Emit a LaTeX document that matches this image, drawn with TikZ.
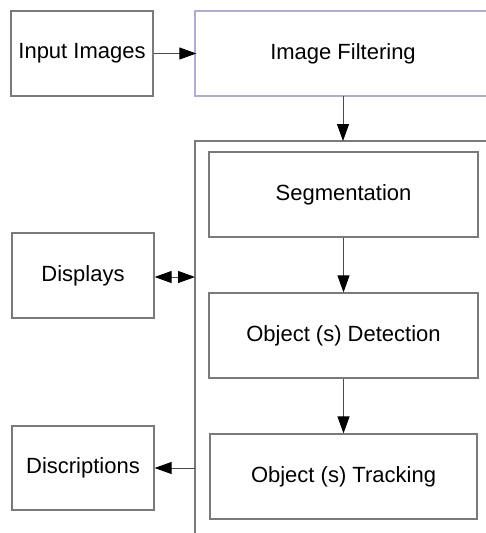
\documentclass[tikz,border=0pt]{standalone}
\usepackage{fontspec}
\setmainfont{Liberation Sans}
\usetikzlibrary{arrows.meta}
\definecolor{boxgray}{HTML}{7A7A7A}
\definecolor{lilac}{HTML}{B4AAD6}
\definecolor{linegray}{HTML}{4A4A4A}
\begin{document}
\begin{tikzpicture}[x=1pt,y=-1pt,
  box/.style={draw=boxgray,line width=1.2pt,fill=white,inner sep=0pt,font=\fontsize{22}{26}\selectfont},
  conn/.style={draw=linegray,line width=1pt,-{Triangle[length=17pt,width=12pt,color=black]}},
  dconn/.style={draw=linegray,line width=1pt,{Triangle[length=17pt,width=12pt,color=black]}-{Triangle[length=17pt,width=12pt,color=black]}}]
\useasboundingbox (0,0) rectangle (486,533);
% container
\draw[boxgray,line width=1.2pt] (487,141) -- (195,141) -- (195,534);
\coordinate (ctop) at (343,141);
\coordinate (cdisp) at (195,277);
\coordinate (cdesc) at (195,468);
% nodes
\node[box,minimum width=142pt,minimum height=85pt] (input) at (82,53.5) {Input Images};
\draw[lilac,line width=1.2pt,fill=white] (488,11) -- (195,11) -- (195,96) -- (488,96);
\node[font=\fontsize{22}{26}\selectfont,inner sep=0pt,minimum width=293pt,minimum height=85pt] (filter) at (343,53.5) {Image Filtering};
\node[box,minimum width=269pt,minimum height=85pt] (seg) at (343.5,194.5) {Segmentation};
\node[box,minimum width=269pt,minimum height=85pt] (det) at (343.5,335.5) {Object (s) Detection};
\node[box,minimum width=267pt,minimum height=85pt] (track) at (343.5,476.5) {Object (s) Tracking};
\node[box,minimum width=142pt,minimum height=85pt] (disp) at (83,275.5) {Displays};
\node[box,minimum width=142pt,minimum height=84pt] (desc) at (83,468) {Discriptions};
% connectors
\draw[conn] (input.east) -- (input.east -| filter.west);
\draw[conn] (filter.south) -- (ctop);
\draw[conn] (seg.south) -- (det.north);
\draw[conn] (det.south) -- (track.north);
\draw[dconn] (disp.east |- cdisp) -- (cdisp);
\draw[conn] (cdesc) -- (desc.east);
\end{tikzpicture}
\end{document}
